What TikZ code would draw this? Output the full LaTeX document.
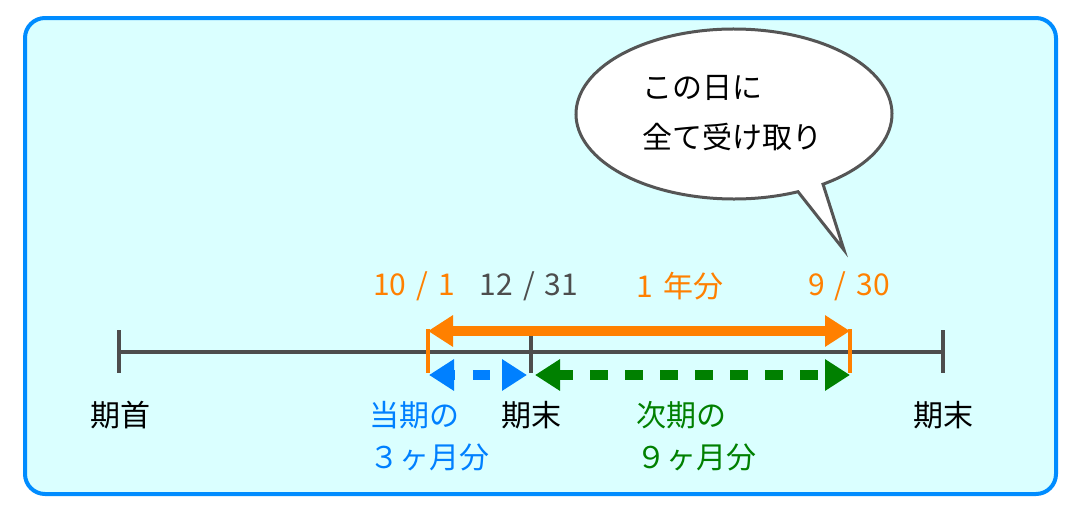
\documentclass[tikz,border=0pt]{standalone}
\usepackage{fontspec}
\setmainfont{Noto Sans CJK JP}
\usetikzlibrary{arrows.meta,calc}
\definecolor{bordc}{RGB}{0,140,255}
\definecolor{bgc}{RGB}{218,255,255}
\definecolor{linec}{RGB}{77,77,77}
\definecolor{callc}{RGB}{85,85,85}
\definecolor{orc}{RGB}{255,128,0}
\definecolor{blc}{RGB}{0,128,255}
\definecolor{grc}{RGB}{0,128,0}
\newcommand\tlgap{\hspace{0.33em}}
\begin{document}
\begin{tikzpicture}[x=1pt,y=-1pt,
  lbl/.style={inner sep=0pt, font=\fontsize{30}{42}\selectfont},
  tl/.style={line width=4pt, draw=linec},
  span/.style={line width=10pt, {Triangle[length=25pt,width=30pt]}-{Triangle[length=25pt,width=30pt]}},
  omark/.style={line width=3.5pt, draw=orc}
]
\useasboundingbox (0,0) rectangle (1080,514);
% frame
\draw[line width=4pt, draw=bordc, fill=bgc, rounded corners=20pt] (25,18) rectangle (1056,494);

% callout
\draw[line width=3pt, draw=callc, fill=white, line join=miter]
  ($(734,114)+(55.7:158 and 85)$) coordinate (cs)
  arc[start angle=55.7, end angle=-293.9, x radius=158, y radius=85]
  -- (844,250) coordinate (ctip) -- cycle;
\node[lbl, align=left, anchor=west, font=\fontsize{30}{50}\selectfont] (call) at (642,113) {この日に\\全て受け取り};

% timeline
\coordinate (a0) at (119,352);
\coordinate (a1) at (943,352);
\draw[tl] (a0) -- (a1);
\draw[tl] (119,330) coordinate (k0a) -- (119,373) coordinate (k0b);
\draw[tl] (943,330) coordinate (k1a) -- (943,373) coordinate (k1b);
\draw[tl] (531,336) coordinate (k2a) -- (531,373) coordinate (k2b);

% orange markers and arrow
\coordinate (o1) at (428,331);
\coordinate (o2) at (850,331);
\draw[omark] (428,329) coordinate (m1a) -- (428,373) coordinate (m1b);
\draw[omark] (850,329) coordinate (m2a) -- (850,373) coordinate (m2b);
\draw[span, draw=orc] (o1) -- (o2);

% blue and green dashed arrows
\coordinate (b1) at (429,375);
\coordinate (b2) at (527,375);
\coordinate (g1) at (535,375);
\coordinate (g2) at (850,375);
\draw[span, draw=blc, dash pattern=on 17pt off 17.5pt, dash phase=14pt] (b1) -- (b2);
\draw[span, draw=grc, dash pattern=on 17.5pt off 17.5pt, dash phase=3pt] (g1) -- (g2);

% top labels
\node[lbl, text=orc] (d1) at (414,286) {10\tlgap/\tlgap1};
\node[lbl, text=linec] (d2) at (529,286) {12\tlgap/\tlgap31};
\node[lbl, text=orc] (d3) at (680,286) {1\hspace{0.33em}年分};
\node[lbl, text=orc] (d4) at (849,286) {9\tlgap/\tlgap30};

% bottom labels
\node[lbl] (s0) at (120,415) {期首};
\node[lbl] (e0) at (531,415) {期末};
\node[lbl] (e1) at (943,415) {期末};
\node[lbl, text=blc, align=left, anchor=west] (cur) at (369,436) {当期の\\３ヶ月分};
\node[lbl, text=grc, align=left, anchor=west] (nxt) at (636,436) {次期の\\９ヶ月分};
\end{tikzpicture}
\end{document}
